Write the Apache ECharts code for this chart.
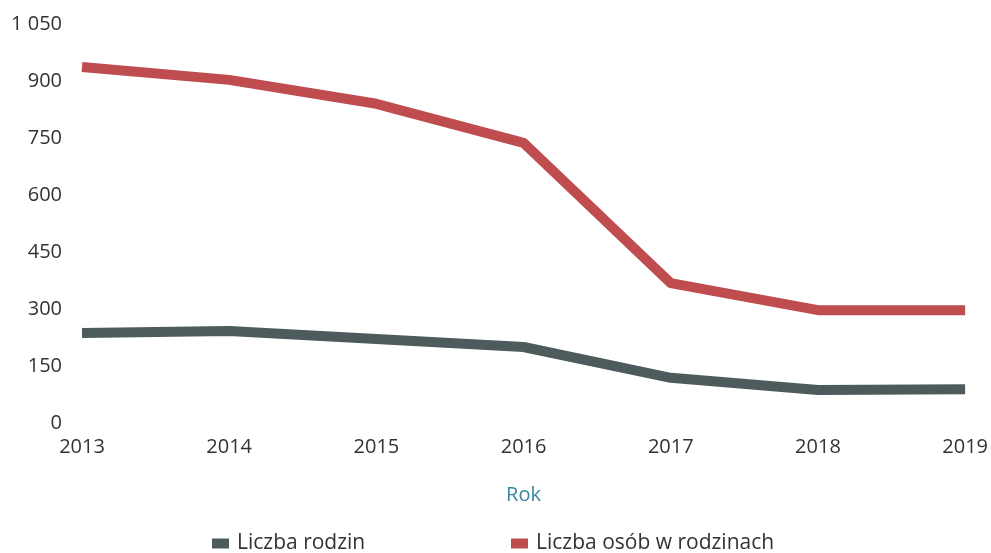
<!DOCTYPE html>
<html>
<head>
<meta charset="utf-8">
<script src="https://cdn.jsdelivr.net/npm/echarts@6/dist/echarts.min.js"></script>
<style>
  html, body { margin: 0; padding: 0; background: #fff; }
  #chart { width: 991px; height: 553px; }
</style>
</head>
<body>
<div id="chart"></div>
<script>
// Rodziny wg roku
var years = ['2013', '2014', '2015', '2016', '2017', '2018', '2019'];
var liczbaRodzin = [237, 242, 221, 200, 119, 87, 89];
var liczbaOsob = [937, 903, 840, 737, 368, 297, 297];
var yTicks = { min: 0, max: 1050, step: 150 };

var FONT = '"Open Sans", "Noto Sans", sans-serif';
var TXT = '#333';

var chart = echarts.init(document.getElementById('chart'));

function legendAt(left, name) {
  return {
    left: left, top: 528,
    itemWidth: 17, itemHeight: 10, itemGap: 0,
    icon: 'rect',
    data: [name],
    textStyle: { fontFamily: FONT, fontSize: 21, color: TXT, padding: [0, 0, 0, 3] }
  };
}

chart.setOption({
  animation: false,
  grid: { left: 82, right: 25, top: 24, bottom: 130 },
  legend: [legendAt(207, 'Liczba rodzin'), legendAt(506, 'Liczba osób w rodzinach')],
  xAxis: {
    type: 'category',
    data: years,
    boundaryGap: false,
    axisLine: { show: false },
    axisTick: { show: false },
    axisLabel: { fontFamily: FONT, fontSize: 20, color: TXT, margin: 14 },
    name: 'Rok',
    nameLocation: 'middle',
    nameGap: 62,
    nameTextStyle: { fontFamily: FONT, fontSize: 20, color: '#3b86a3' }
  },
  yAxis: {
    type: 'value',
    min: yTicks.min, max: yTicks.max, interval: yTicks.step,
    axisLine: { show: false },
    axisTick: { show: false },
    splitLine: { show: false },
    axisLabel: {
      fontFamily: FONT, fontSize: 20, color: TXT, margin: 20,
      formatter: function(v) { return v >= 1000 ? String(v).replace(/(\d)(\d{3})$/, '$1 $2') : String(v); }
    }
  },
  series: [
    {
      name: 'Liczba rodzin', type: 'line', data: liczbaRodzin,
      symbol: 'none', color: '#4d5b5c',
      lineStyle: { width: 10, color: '#4d5b5c', cap: 'butt', join: 'round' }
    },
    {
      name: 'Liczba osób w rodzinach', type: 'line', data: liczbaOsob,
      symbol: 'none', color: '#bf4d50',
      lineStyle: { width: 10, color: '#bf4d50', cap: 'butt', join: 'round' }
    }
  ]
});
</script>
</body>
</html>
